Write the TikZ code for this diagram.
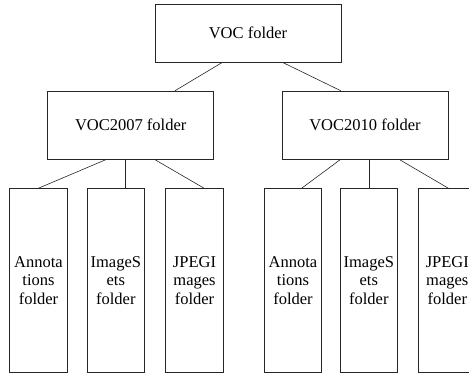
\documentclass[tikz,border=0pt]{standalone}
\usepackage{fontspec}
\setmainfont{Liberation Serif}
\tikzset{
  folder/.style={draw=black!85, line width=0.6pt, inner sep=0pt, align=center,
    font=\fontsize{16.5}{18.5}\selectfont},
  topbox/.style={folder, minimum width=186pt, minimum height=58pt},
  midbox/.style={folder, minimum width=166pt, minimum height=68pt},
  leafbox/.style={folder, minimum width=57.5pt, minimum height=184pt},
  link/.style={draw=black!85, line width=0.6pt}
}
\begin{document}
\begin{tikzpicture}[x=1pt,y=-1pt]

	%Frame
	\clip (0,0) rectangle (469,375);

	%Root
	\node[topbox] (voc) at (248,33.3) {VOC folder};

	%Years
	\node[midbox] (voc07) at (130.7,125) {VOC2007 folder};
	\node[midbox] (voc10) at (365,125) {VOC2010 folder};

	%Subfolders of VOC2007
	\node[leafbox] (ann07) at (38.5,280.5) {Annota\\tions\\folder};
	\node[leafbox] (set07) at (115.8,280.5) {ImageS\\ets\\folder};
	\node[leafbox] (jpg07) at (194.5,280.5) {JPEGI\\mages\\folder};

	%Subfolders of VOC2010
	\node[leafbox] (ann10) at (293,280.5) {Annota\\tions\\folder};
	\node[leafbox] (set10) at (368.8,280.5) {ImageS\\ets\\folder};
	\node[leafbox] (jpg10) at (447.3,280.5) {JPEGI\\mages\\folder};

	%Links
	\draw[link] ([xshift=-26pt]voc.south) -- ([xshift=44.3pt]voc07.north);
	\draw[link] ([xshift=35pt]voc.south) -- ([xshift=-24.3pt]voc10.north);

	\draw[link] ([xshift=-24pt]voc07.south) -- (ann07.north);
	\draw[link] ([xshift=-5.4pt]voc07.south) -- ([xshift=9.5pt]set07.north);
	\draw[link] ([xshift=23.6pt]voc07.south) -- ([xshift=9.5pt]jpg07.north);

	\draw[link] ([xshift=-24.3pt]voc10.south) -- ([xshift=8.7pt]ann10.north);
	\draw[link] ([xshift=4.3pt]voc10.south) -- ([xshift=0.5pt]set10.north);
	\draw[link] ([xshift=34pt]voc10.south) -- ([xshift=1pt]jpg10.north);

\end{tikzpicture}
\end{document}
